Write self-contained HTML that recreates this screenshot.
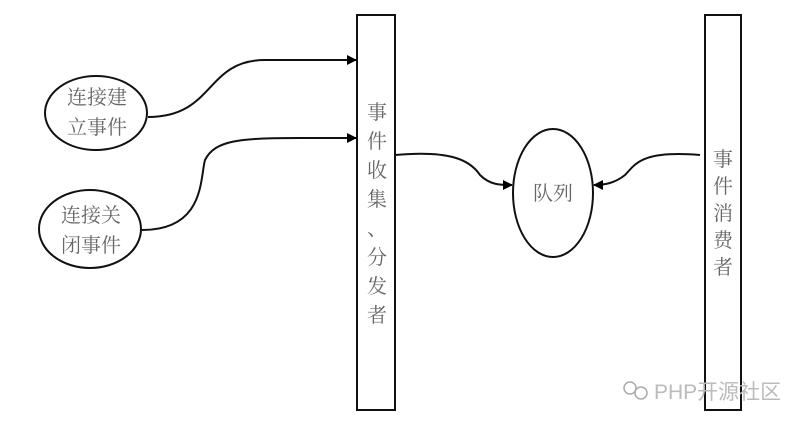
<!DOCTYPE html>
<html><head><meta charset="utf-8"><style>
html,body{margin:0;padding:0;background:#fff;}
svg text{font-family:"Liberation Serif","Noto Serif CJK SC",serif;fill:#666;}
</style></head><body>
<svg width="800" height="425" viewBox="0 0 800 425" xmlns="http://www.w3.org/2000/svg">
<defs><marker id="a" markerWidth="10" markerHeight="10" refX="9" refY="5" orient="auto" markerUnits="userSpaceOnUse"><path d="M0,0 L10,5 L0,10 z" fill="#000"/></marker></defs>
<g fill="none" stroke="#111" stroke-width="2">
<rect x="357" y="15" width="38" height="395"/>
<rect x="705" y="15" width="36" height="395"/>
<ellipse cx="96" cy="113" rx="51" ry="37"/>
<ellipse cx="90" cy="229" rx="51" ry="39"/>
<ellipse cx="553" cy="193" rx="40" ry="64"/>
<path d="M148,117 C215,117 205,60 265,60 L356,60" marker-end="url(#a)"/>
<path d="M142,230 C205,230 200,178 205,160 C215,140 240,138 300,138 L356,138" marker-end="url(#a)"/>
<path d="M395,155 C450,150 470,160 480,175 C490,185 500,185 512,185" marker-end="url(#a)"/>
<path d="M700,155 C640,150 635,165 625,175 C615,183 605,185 594,185" marker-end="url(#a)"/>
</g>
<g font-size="20">
<text x="97" y="104" text-anchor="middle">连接建</text>
<text x="97" y="134" text-anchor="middle">立事件</text>
<text x="91" y="222" text-anchor="middle">连接关</text>
<text x="91" y="252" text-anchor="middle">闭事件</text>
<text x="553" y="200" text-anchor="middle">队列</text>
<g text-anchor="middle">
<text x="377" y="119">事</text><text x="377" y="148">件</text><text x="377" y="177">收</text><text x="377" y="206">集</text><text x="377" y="235">、</text><text x="377" y="264">分</text><text x="377" y="293">发</text><text x="377" y="322">者</text>
<text x="723" y="166">事</text><text x="723" y="193">件</text><text x="723" y="220">消</text><text x="723" y="247">费</text><text x="723" y="274">者</text>
</g>
</g>
<g fill="none" stroke="#aaa" stroke-width="1.5"><circle cx="630" cy="388" r="6"/><circle cx="641" cy="393" r="6"/></g>
<text x="654" y="399" font-size="21" style="font-family:'Liberation Sans','Noto Sans CJK SC',sans-serif;fill:#bbb">PHP开源社区</text>
</svg>
</body></html>
